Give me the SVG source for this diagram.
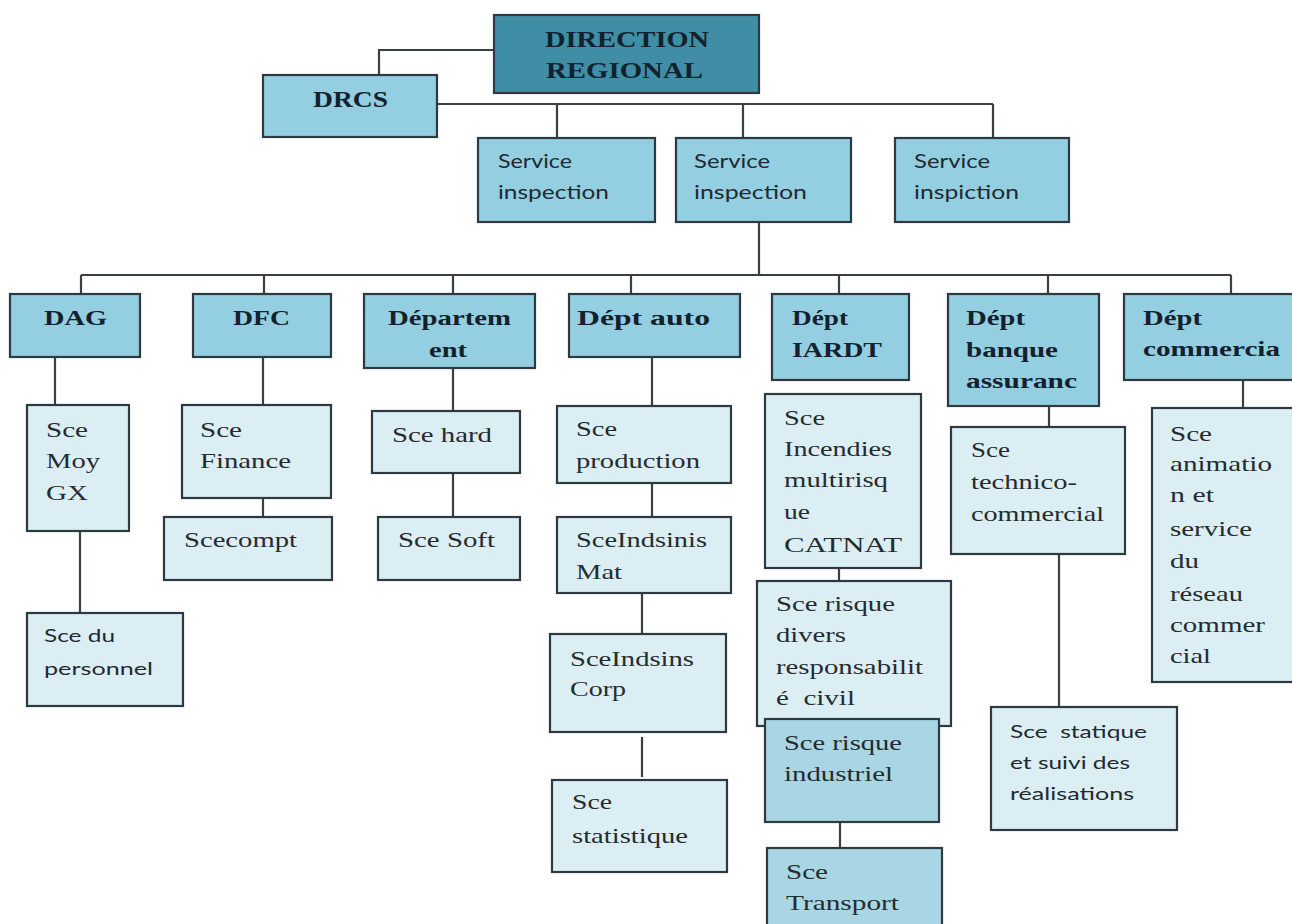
<svg xmlns="http://www.w3.org/2000/svg" width="1292" height="924" viewBox="0 0 1292 924">
<style>
.box{stroke:#2e3a40;stroke-width:2.2}
.dark{fill:#3f8ea5}
.mid{fill:#93cfe0}
.ind{fill:#a9d6e4}
.light{fill:#dbeef4}
.con{fill:none;stroke:#3a3f42;stroke-width:2.2}
.b{font-family:"Liberation Serif",serif;font-weight:bold;font-size:21px;fill:#13212e}
.bt{font-family:"Liberation Serif",serif;font-weight:bold;font-size:23px;fill:#13212e}
.r{font-family:"Liberation Serif",serif;font-size:22px;fill:#262b2e}
.s{font-family:Lato,"Liberation Sans",sans-serif;font-size:20px;fill:#1f2a30}
.ss{font-family:Lato,"Liberation Sans",sans-serif;font-size:17px;fill:#1f2a30}
</style>
<rect width="1292" height="924" fill="#ffffff"/>
<g id="connectors">
<path class="con" d="M379,75 V50 H494"/>
<path class="con" d="M437,104 H993 M557,104 V138 M743,104 V138 M993,104 V138"/>
<path class="con" d="M759,222 V275"/>
<path class="con" d="M81,275 H1231 M81,275 V294 M264,275 V294 M453,275 V294 M631,275 V294 M839,275 V294 M1048,275 V294 M1231,275 V294"/>
<path class="con" d="M55,357 V405 M263,357 V405 M453,368 V411 M652,357 V406 M1243,380 V408"/>
<path class="con" d="M80,531 V613 M263,498 V517 M453,473 V517 M652,483 V517 M642,593 V634 M642,737 V777"/>
<path class="con" d="M839,568 V581 M840,822 V848 M1049,406 V427 M1059,554 V707"/>
</g>
<g id="direction"><rect class="box dark" x="494" y="15" width="265" height="78"/>
<text class="bt" x="545" y="47" textLength="164" lengthAdjust="spacingAndGlyphs">DIRECTION</text>
<text class="bt" x="546" y="78" textLength="157" lengthAdjust="spacingAndGlyphs">REGIONAL</text></g>
<g id="drcs"><rect class="box mid" x="263" y="75" width="174" height="62"/>
<text class="bt" x="313" y="107" textLength="75" lengthAdjust="spacingAndGlyphs">DRCS</text></g>
<g id="service1"><rect class="box mid" x="478" y="138" width="177" height="84"/>
<text class="s" x="498" y="168" textLength="74" lengthAdjust="spacingAndGlyphs">Service</text>
<text class="s" x="498" y="199" textLength="111" lengthAdjust="spacingAndGlyphs">inspection</text></g>
<g id="service2"><rect class="box mid" x="676" y="138" width="175" height="84"/>
<text class="s" x="694" y="168" textLength="76" lengthAdjust="spacingAndGlyphs">Service</text>
<text class="s" x="694" y="199" textLength="113" lengthAdjust="spacingAndGlyphs">inspection</text></g>
<g id="service3"><rect class="box mid" x="895" y="138" width="174" height="84"/>
<text class="s" x="914" y="168" textLength="76" lengthAdjust="spacingAndGlyphs">Service</text>
<text class="s" x="914" y="199" textLength="105" lengthAdjust="spacingAndGlyphs">inspiction</text></g>
<g id="dag"><rect class="box mid" x="10" y="294" width="130" height="63"/>
<text class="b" x="44" y="325" textLength="63" lengthAdjust="spacingAndGlyphs">DAG</text></g>
<g id="dfc"><rect class="box mid" x="193" y="294" width="138" height="63"/>
<text class="b" x="233" y="325" textLength="57" lengthAdjust="spacingAndGlyphs">DFC</text></g>
<g id="departement"><rect class="box mid" x="364" y="294" width="171" height="74"/>
<text class="b" x="388" y="325" textLength="123" lengthAdjust="spacingAndGlyphs">Départem</text>
<text class="b" x="429" y="357" textLength="38" lengthAdjust="spacingAndGlyphs">ent</text></g>
<g id="dept-auto"><rect class="box mid" x="569" y="294" width="171" height="63"/>
<text class="b" x="577" y="325" textLength="133" lengthAdjust="spacingAndGlyphs">Dépt auto</text></g>
<g id="dept-iardt"><rect class="box mid" x="772" y="294" width="137" height="86"/>
<text class="b" x="792" y="325" textLength="56" lengthAdjust="spacingAndGlyphs">Dépt</text>
<text class="b" x="792" y="357" textLength="90" lengthAdjust="spacingAndGlyphs">IARDT</text></g>
<g id="dept-banque"><rect class="box mid" x="948" y="294" width="151" height="112"/>
<text class="b" x="966" y="325" textLength="59" lengthAdjust="spacingAndGlyphs">Dépt</text>
<text class="b" x="966" y="357" textLength="92" lengthAdjust="spacingAndGlyphs">banque</text>
<text class="b" x="966" y="388" textLength="111" lengthAdjust="spacingAndGlyphs">assuranc</text></g>
<g id="dept-commercia"><rect class="box mid" x="1124" y="294" width="178" height="86"/>
<text class="b" x="1143" y="325" textLength="59" lengthAdjust="spacingAndGlyphs">Dépt</text>
<text class="b" x="1143" y="356" textLength="137" lengthAdjust="spacingAndGlyphs">commercia</text></g>
<g id="sce-moy-gx"><rect class="box light" x="27" y="405" width="102" height="126"/>
<text class="r" x="46" y="437" textLength="42" lengthAdjust="spacingAndGlyphs">Sce</text>
<text class="r" x="46" y="468" textLength="54" lengthAdjust="spacingAndGlyphs">Moy</text>
<text class="r" x="46" y="500" textLength="42" lengthAdjust="spacingAndGlyphs">GX</text></g>
<g id="sce-personnel"><rect class="box light" x="27" y="613" width="156" height="93"/>
<text class="ss" x="44" y="642" textLength="71" lengthAdjust="spacingAndGlyphs">Sce du</text>
<text class="ss" x="44" y="675" textLength="109" lengthAdjust="spacingAndGlyphs">personnel</text></g>
<g id="sce-finance"><rect class="box light" x="182" y="405" width="149" height="93"/>
<text class="r" x="200" y="437" textLength="42" lengthAdjust="spacingAndGlyphs">Sce</text>
<text class="r" x="200" y="468" textLength="91" lengthAdjust="spacingAndGlyphs">Finance</text></g>
<g id="scecompt"><rect class="box light" x="164" y="517" width="168" height="63"/>
<text class="r" x="184" y="547" textLength="113" lengthAdjust="spacingAndGlyphs">Scecompt</text></g>
<g id="sce-hard"><rect class="box light" x="372" y="411" width="148" height="62"/>
<text class="r" x="392" y="442" textLength="100" lengthAdjust="spacingAndGlyphs">Sce hard</text></g>
<g id="sce-soft"><rect class="box light" x="378" y="517" width="142" height="63"/>
<text class="r" x="398" y="547" textLength="97" lengthAdjust="spacingAndGlyphs">Sce Soft</text></g>
<g id="sce-production"><rect class="box light" x="557" y="406" width="174" height="77"/>
<text class="r" x="576" y="436" textLength="41" lengthAdjust="spacingAndGlyphs">Sce</text>
<text class="r" x="576" y="468" textLength="124" lengthAdjust="spacingAndGlyphs">production</text></g>
<g id="sce-indsinis-mat"><rect class="box light" x="557" y="517" width="174" height="76"/>
<text class="r" x="576" y="547" textLength="131" lengthAdjust="spacingAndGlyphs">SceIndsinis</text>
<text class="r" x="576" y="579" textLength="46" lengthAdjust="spacingAndGlyphs">Mat</text></g>
<g id="sce-indsins-corp"><rect class="box light" x="550" y="634" width="176" height="98"/>
<text class="r" x="570" y="666" textLength="124" lengthAdjust="spacingAndGlyphs">SceIndsins</text>
<text class="r" x="570" y="696" textLength="56" lengthAdjust="spacingAndGlyphs">Corp</text></g>
<g id="sce-statistique"><rect class="box light" x="552" y="780" width="175" height="92"/>
<text class="r" x="572" y="809" textLength="40" lengthAdjust="spacingAndGlyphs">Sce</text>
<text class="r" x="572" y="843" textLength="116" lengthAdjust="spacingAndGlyphs">statistique</text></g>
<g id="sce-incendies"><rect class="box light" x="765" y="394" width="156" height="174"/>
<text class="r" x="784" y="425" textLength="41" lengthAdjust="spacingAndGlyphs">Sce</text>
<text class="r" x="784" y="456" textLength="108" lengthAdjust="spacingAndGlyphs">Incendies</text>
<text class="r" x="784" y="487" textLength="104" lengthAdjust="spacingAndGlyphs">multirisq</text>
<text class="r" x="784" y="519" textLength="26" lengthAdjust="spacingAndGlyphs">ue</text>
<text class="r" x="784" y="552" textLength="118" lengthAdjust="spacingAndGlyphs">CATNAT</text></g>
<g id="sce-risque-divers"><rect class="box light" x="757" y="581" width="194" height="145"/>
<text class="r" x="776" y="611" textLength="119" lengthAdjust="spacingAndGlyphs">Sce risque</text>
<text class="r" x="776" y="642" textLength="70" lengthAdjust="spacingAndGlyphs">divers</text>
<text class="r" x="776" y="674" textLength="147" lengthAdjust="spacingAndGlyphs">responsabilit</text>
<text class="r" x="776" y="705" textLength="79" lengthAdjust="spacingAndGlyphs" xml:space="preserve" style="white-space:pre">é  civil</text></g>
<g id="sce-risque-industriel"><rect class="box ind" x="765" y="719" width="174" height="103"/>
<text class="r" x="784" y="750" textLength="118" lengthAdjust="spacingAndGlyphs">Sce risque</text>
<text class="r" x="784" y="781" textLength="109" lengthAdjust="spacingAndGlyphs">industriel</text></g>
<g id="sce-transport"><rect class="box ind" x="767" y="848" width="175" height="90"/>
<text class="r" x="786" y="879" textLength="42" lengthAdjust="spacingAndGlyphs">Sce</text>
<text class="r" x="786" y="910" textLength="113" lengthAdjust="spacingAndGlyphs">Transport</text></g>
<g id="sce-technico"><rect class="box light" x="951" y="427" width="174" height="127"/>
<text class="r" x="971" y="457" textLength="39" lengthAdjust="spacingAndGlyphs">Sce</text>
<text class="r" x="971" y="489" textLength="106" lengthAdjust="spacingAndGlyphs">technico-</text>
<text class="r" x="971" y="521" textLength="133" lengthAdjust="spacingAndGlyphs">commercial</text></g>
<g id="sce-statique"><rect class="box light" x="991" y="707" width="186" height="123"/>
<text class="ss" x="1010" y="738" textLength="137" lengthAdjust="spacingAndGlyphs" xml:space="preserve" style="white-space:pre">Sce  statique</text>
<text class="ss" x="1010" y="769" textLength="120" lengthAdjust="spacingAndGlyphs">et suivi des</text>
<text class="ss" x="1010" y="800" textLength="124" lengthAdjust="spacingAndGlyphs">réalisations</text></g>
<g id="sce-animation"><rect class="box light" x="1152" y="408" width="150" height="274"/>
<text class="r" x="1170" y="441" textLength="42" lengthAdjust="spacingAndGlyphs">Sce</text>
<text class="r" x="1170" y="471" textLength="102" lengthAdjust="spacingAndGlyphs">animatio</text>
<text class="r" x="1170" y="502" textLength="44" lengthAdjust="spacingAndGlyphs">n et</text>
<text class="r" x="1170" y="536" textLength="82" lengthAdjust="spacingAndGlyphs">service</text>
<text class="r" x="1170" y="568" textLength="29" lengthAdjust="spacingAndGlyphs">du</text>
<text class="r" x="1170" y="601" textLength="73" lengthAdjust="spacingAndGlyphs">réseau</text>
<text class="r" x="1170" y="632" textLength="95" lengthAdjust="spacingAndGlyphs">commer</text>
<text class="r" x="1170" y="663" textLength="41" lengthAdjust="spacingAndGlyphs">cial</text></g>
</svg>
